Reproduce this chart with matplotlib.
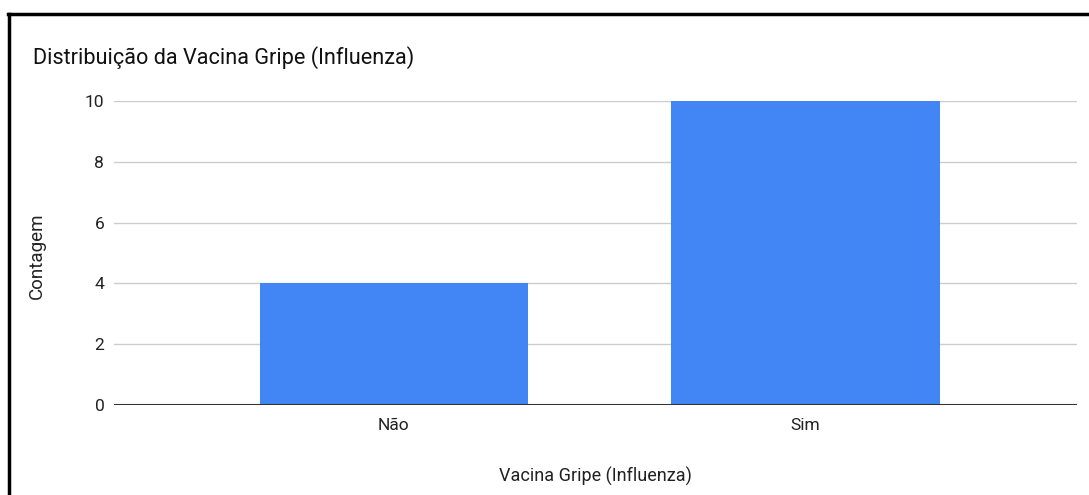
import numpy as np
from matplotlib import pyplot as plt
from matplotlib.lines import Line2D

plt.rcParams['font.family'] = ['Roboto', 'DejaVu Sans']

categories = ["Não", "Sim"]
counts = [4, 10]
y_ticks = [0, 2, 4, 6, 8, 10]

fig = plt.figure(figsize=(10.89, 4.95), dpi=100)
ax = fig.add_axes([0.1047, 0.1818, 0.8843, 0.6142])

x = np.arange(len(categories))
ax.bar(x, counts, width=0.652, color="#4285F4", zorder=3)

ax.set_xlim(-0.68, 1.66)
ax.set_ylim(0, 10)
ax.set_yticks(y_ticks)
ax.set_xticks(x)
ax.set_xticklabels(categories)
ax.grid(axis="y", color="#cccccc", linewidth=1, zorder=0)
ax.axhline(0, color="#333333", linewidth=1.5, zorder=4)
for s in ax.spines.values():
    s.set_visible(False)
ax.tick_params(axis="both", length=0, labelsize=12.5, colors="#222222")
ax.tick_params(axis="y", pad=7)
ax.tick_params(axis="x", pad=9)

ax.set_ylabel("Contagem", fontsize=13.5, color="#222222")
ax.yaxis.set_label_coords(-0.071, 0.49)
ax.set_xlabel("Vacina Gripe (Influenza)", fontsize=13, color="#222222")
ax.xaxis.set_label_coords(0.5, -0.204)

fig.text(0.030, 0.883, "Distribuição da Vacina Gripe (Influenza)", fontsize=15.6,
         color="#111111", va="center", ha="left")

# black frame top/left
fig.add_artist(Line2D([0.0075, 1.0], [0.972, 0.972], color="black", linewidth=2.5,
                      transform=fig.transFigure))
fig.add_artist(Line2D([0.0085, 0.0085], [0.0, 0.972], color="black", linewidth=2.5,
                      transform=fig.transFigure))

fig.savefig("out.png", dpi=100, facecolor="white")
